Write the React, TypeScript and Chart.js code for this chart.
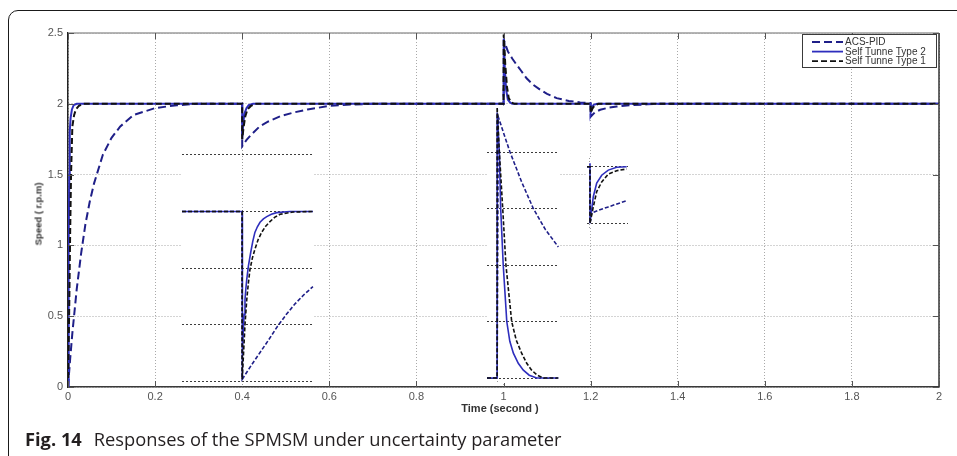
import React, { useEffect, useRef } from "react";
import { Chart, registerables } from "chart.js";

Chart.register(...registerables);

type Pair = [number, number];

// ---------- labels and ticks ----------
const seriesLabels = ["ACS-PID", "Self Tunne Type 2", "Self Tunne Type 1"];
const xTickValues = [0, 0.2, 0.4, 0.6, 0.8, 1, 1.2, 1.4, 1.6, 1.8, 2];
const xTickLabels = ["0", "0.2", "0.4", "0.6", "0.8", "1", "1.2", "1.4", "1.6", "1.8", "2"];
const yTickValues = [0, 0.5, 1, 1.5, 2, 2.5];
const yTickLabels = ["0", "0.5", "1", "1.5", "2", "2.5"];

// ---------- main response (time s, speed) ----------
const acsPid: Pair[] = [
  [0, 0], [0.005, 0.2], [0.01, 0.38], [0.02, 0.69], [0.03, 0.94], [0.04, 1.15], [0.05, 1.31],
  [0.06, 1.44], [0.08, 1.64], [0.1, 1.76], [0.12, 1.84], [0.15, 1.92], [0.2, 1.97], [0.25, 1.99],
  [0.3, 2.0], [0.4, 2.0],
  [0.4, 1.7], [0.41, 1.745], [0.42, 1.78], [0.44, 1.84], [0.46, 1.875], [0.49, 1.915], [0.52, 1.94],
  [0.55, 1.96], [0.6, 1.985], [0.65, 1.995], [0.7, 2.0], [1.0, 2.0],
  [1.002, 2.44], [1.01, 2.37], [1.02, 2.32], [1.03, 2.276], [1.04, 2.235], [1.053, 2.18],
  [1.068, 2.135], [1.084, 2.1], [1.1, 2.07], [1.122, 2.04], [1.15, 2.02], [1.176, 2.01], [1.2, 2.005],
  [1.2005, 1.91], [1.21, 1.94], [1.222, 1.958], [1.24, 1.972], [1.26, 1.981], [1.29, 1.99],
  [1.33, 1.996], [1.36, 2.0], [2.0, 2.0],
];
const selfTuneType2: Pair[] = [
  [0, 0], [0.001, 0.5], [0.002, 1.0], [0.003, 1.5], [0.004, 1.8], [0.006, 1.9], [0.009, 1.96],
  [0.013, 1.99], [0.02, 2.0], [0.4, 2.0],
  [0.4, 1.75], [0.402, 1.85], [0.405, 1.93], [0.41, 1.97], [0.415, 1.99], [0.425, 2.0], [1.0, 2.0],
  [1.0005, 2.46], [1.003, 2.25], [1.006, 2.1], [1.01, 2.03], [1.015, 2.01], [1.02, 2.0], [1.2, 2.0],
  [1.2, 1.935], [1.203, 1.975], [1.207, 1.993], [1.215, 2.0], [2.0, 2.0],
];
const selfTuneType1: Pair[] = [
  [0, 0], [0.003, 0.6], [0.005, 1.1], [0.007, 1.5], [0.01, 1.84], [0.014, 1.92], [0.018, 1.96],
  [0.025, 1.985], [0.035, 2.0], [0.4, 2.0],
  [0.4, 1.75], [0.403, 1.83], [0.407, 1.91], [0.412, 1.96], [0.42, 1.985], [0.43, 2.0], [1.0, 2.0],
  [1.0005, 2.49], [1.004, 2.28], [1.008, 2.12], [1.012, 2.04], [1.018, 2.01], [1.025, 2.0], [1.2, 2.0],
  [1.2, 1.935], [1.204, 1.965], [1.209, 1.987], [1.218, 2.0], [2.0, 2.0],
];

// ---------- zoomed views ----------
// load step at t = 0.4
const inset1Acs: Pair[] = [
  [0.366, 2.0], [0.4, 2.0], [0.4, 1.703], [0.405, 1.727], [0.41, 1.75], [0.415, 1.773],
  [0.42, 1.797], [0.425, 1.818], [0.43, 1.837], [0.435, 1.853], [0.44, 1.867],
];
const inset1Type2: Pair[] = [
  [0.366, 2.0], [0.4, 2.0], [0.4, 1.703], [0.4003, 1.745], [0.4006, 1.786], [0.4011, 1.818],
  [0.4016, 1.844], [0.4021, 1.864], [0.4026, 1.88], [0.4035, 1.903], [0.4048, 1.927],
  [0.406, 1.947], [0.4072, 1.963], [0.4086, 1.973], [0.4101, 1.981], [0.412, 1.987],
  [0.4139, 1.991], [0.4165, 1.995], [0.4195, 1.998], [0.427, 2.0], [0.44, 2.0],
];
const inset1Type1: Pair[] = [
  [0.366, 2.0], [0.4, 2.0], [0.4, 1.703], [0.4006, 1.738], [0.4016, 1.8], [0.4026, 1.844],
  [0.4035, 1.873], [0.4044, 1.897], [0.4058, 1.918], [0.4072, 1.933], [0.409, 1.95],
  [0.411, 1.963], [0.4133, 1.974], [0.4157, 1.982], [0.4185, 1.99], [0.4214, 1.995],
  [0.4287, 1.999], [0.44, 2.0],
];
const inset1Levels = [1.7, 1.8, 1.9, 2.0, 2.1];
const inset1Marks = [0.4];

// parameter change at t = 1.0
const inset2Acs: Pair[] = [
  [0.994, 2.0], [1.0, 2.0], [1.0007, 2.462], [1.004, 2.432], [1.0076, 2.4], [1.0145, 2.347],
  [1.0214, 2.3], [1.0285, 2.263], [1.0362, 2.232],
];
const inset2Type2: Pair[] = [
  [0.994, 2.0], [1.0, 2.0], [1.0, 2.47], [1.0013, 2.4], [1.0021, 2.3], [1.0036, 2.2], [1.0057, 2.1],
  [1.0075, 2.065], [1.0096, 2.044], [1.0125, 2.026], [1.0155, 2.014], [1.019, 2.005],
  [1.0234, 2.0], [1.0362, 2.0],
];
const inset2Type1: Pair[] = [
  [0.994, 2.0], [1.0, 2.0], [1.0, 2.48], [1.0013, 2.4], [1.0033, 2.3], [1.0052, 2.2], [1.0086, 2.1],
  [1.0113, 2.067], [1.0145, 2.044], [1.0175, 2.026], [1.0204, 2.014], [1.0237, 2.005],
  [1.0271, 2.0], [1.0362, 2.0],
];
const inset2Levels = [2.0, 2.1, 2.2, 2.3, 2.4];
const inset2Marks = [1.0];

// disturbance at t = 1.2
const inset3Acs: Pair[] = [
  [1.197, 2.0], [1.2, 2.0], [1.2, 1.9], [1.2017, 1.918], [1.2083, 1.923], [1.2183, 1.929], [1.2367, 1.94],
];
const inset3Type2: Pair[] = [
  [1.197, 2.0], [1.2, 2.0], [1.2, 2.006], [1.2, 1.9], [1.2033, 1.947], [1.2067, 1.971],
  [1.2117, 1.985], [1.2183, 1.994], [1.2267, 1.999], [1.2367, 2.0],
];
const inset3Type1: Pair[] = [
  [1.197, 2.0], [1.2, 2.0], [1.2, 1.9], [1.2033, 1.929], [1.2067, 1.956], [1.2117, 1.973],
  [1.2183, 1.987], [1.2267, 1.993], [1.2367, 1.996],
];
const inset3Levels = [1.9, 2.0];
const inset3Marks = [1.2];

// ---------- styles ----------
const ACS_COLOR = "#1f1f88";
const TYPE2_COLOR = "#2e2ebd";
const TYPE1_COLOR = "#111111";
const TICK_FONT = "'Liberation Sans', Arial, sans-serif";

const toPoints = (pairs: Pair[]) => pairs.map(([x, y]) => ({ x, y }));

const frameAndTicks = {
  id: "frameAndTicks",
  afterDraw(chart: any) {
    const { ctx, chartArea } = chart;
    const { left, right, top, bottom } = chartArea;
    const xs = chart.scales.x;
    const ys = chart.scales.y;
    ctx.save();
    ctx.lineWidth = 1.5;
    ctx.strokeStyle = "#9c9c9c";
    ctx.beginPath();
    ctx.moveTo(left, top);
    ctx.lineTo(right, top);
    ctx.stroke();
    ctx.strokeStyle = "#333";
    ctx.beginPath();
    ctx.moveTo(right, top);
    ctx.lineTo(right, bottom);
    ctx.stroke();
    ctx.lineWidth = 1;
    ctx.strokeStyle = "#555";
    const len = 6;
    xs.ticks.forEach((t: any) => {
      const px = Math.round(xs.getPixelForValue(t.value)) + 0.5;
      ctx.beginPath();
      ctx.moveTo(px, bottom);
      ctx.lineTo(px, bottom - len);
      ctx.moveTo(px, top);
      ctx.lineTo(px, top + len);
      ctx.stroke();
    });
    ys.ticks.forEach((t: any) => {
      const py = Math.round(ys.getPixelForValue(t.value)) + 0.5;
      ctx.beginPath();
      ctx.moveTo(left, py);
      ctx.lineTo(left + len, py);
      ctx.moveTo(right, py);
      ctx.lineTo(right - len, py);
      ctx.stroke();
    });
    ctx.restore();
  },
};

const legendBox = {
  id: "legendBox",
  afterDraw(chart: any) {
    const { ctx, chartArea } = chart;
    const w = 134;
    const h = 33;
    const bx = chartArea.right - 137;
    const by = chartArea.top + 1;
    ctx.save();
    ctx.fillStyle = "#ffffff";
    ctx.fillRect(bx, by, w, h);
    ctx.strokeStyle = "#3a3a3a";
    ctx.lineWidth = 1;
    ctx.strokeRect(bx + 0.5, by + 0.5, w, h);
    ctx.font = `10px ${TICK_FONT}`;
    ctx.textBaseline = "middle";
    chart.data.datasets.forEach((ds: any, i: number) => {
      const cy = by + 8 + i * 9.6;
      ctx.strokeStyle = ds.borderColor;
      ctx.lineWidth = 1.8;
      ctx.setLineDash(ds.borderDash || []);
      ctx.beginPath();
      ctx.moveTo(bx + 10, cy);
      ctx.lineTo(bx + 41, cy);
      ctx.stroke();
      ctx.setLineDash([]);
      ctx.fillStyle = "#333";
      ctx.fillText(ds.label, bx + 43, cy + 0.5);
    });
    ctx.restore();
  },
};

function MainPlot() {
  const ref = useRef<HTMLCanvasElement>(null);
  useEffect(() => {
    const chart = new Chart(ref.current as HTMLCanvasElement, {
      type: "line",
      data: {
        datasets: [
          {
            label: seriesLabels[0],
            data: toPoints(acsPid),
            borderColor: ACS_COLOR,
            borderDash: [8, 4],
            borderWidth: 2,
            pointRadius: 0,
            tension: 0,
            order: 3,
          },
          {
            label: seriesLabels[1],
            data: toPoints(selfTuneType2),
            borderColor: TYPE2_COLOR,
            borderWidth: 2,
            pointRadius: 0,
            tension: 0,
            order: 2,
          },
          {
            label: seriesLabels[2],
            data: toPoints(selfTuneType1),
            borderColor: TYPE1_COLOR,
            borderDash: [6, 3],
            borderWidth: 2,
            pointRadius: 0,
            tension: 0,
            order: 1,
          },
        ],
      } as any,
      options: {
        animation: false,
        responsive: false,
        maintainAspectRatio: false,
        events: [],
        layout: { padding: { left: 0, top: 33, right: 18, bottom: 0 } },
        plugins: { legend: { display: false }, tooltip: { enabled: false } },
        scales: {
          x: {
            type: "linear",
            min: 0,
            max: 2,
            afterBuildTicks: (s: any) => {
              s.ticks = xTickValues.map((v) => ({ value: v }));
            },
            afterFit: (s: any) => {
              s.height = 69;
            },
            ticks: {
              autoSkip: false,
              maxRotation: 0,
              padding: 3,
              color: "#555",
              font: { family: TICK_FONT, size: 11 },
              callback: (_v: any, i: number) => xTickLabels[i],
            },
            grid: { color: "#a9a9a9", lineWidth: 1, drawTicks: false },
            border: { color: "#3a3a3a", width: 1.5, dash: [1, 2] },
          },
          y: {
            type: "linear",
            min: 0,
            max: 2.5,
            afterBuildTicks: (s: any) => {
              s.ticks = yTickValues.map((v) => ({ value: v }));
            },
            afterFit: (s: any) => {
              s.width = 68;
            },
            ticks: {
              autoSkip: false,
              padding: 5,
              color: "#555",
              font: { family: TICK_FONT, size: 11 },
              callback: (_v: any, i: number) => yTickLabels[i],
            },
            grid: { color: "#a9a9a9", lineWidth: 1, drawTicks: false },
            border: { color: "#222", width: 1.5, dash: [1, 2] },
          },
        },
      } as any,
      plugins: [frameAndTicks, legendBox],
    });
    return () => chart.destroy();
  }, []);
  return (
    <canvas
      ref={ref}
      width={957}
      height={456}
      style={{ position: "absolute", left: 0, top: 0, width: 957, height: 456 }}
    />
  );
}

type InsetProps = {
  left: number;
  top: number;
  width: number;
  height: number;
  xRange: [number, number];
  yRange: [number, number];
  levels: number[];
  marks: number[];
  acs: Pair[];
  type2: Pair[];
  type1: Pair[];
};

function Inset(props: InsetProps) {
  const ref = useRef<HTMLCanvasElement>(null);
  useEffect(() => {
    const chart = new Chart(ref.current as HTMLCanvasElement, {
      type: "line",
      data: {
        datasets: [
          {
            label: seriesLabels[0],
            data: toPoints(props.acs),
            borderColor: ACS_COLOR,
            borderDash: [4, 2],
            borderWidth: 1.6,
            pointRadius: 0,
            tension: 0,
            order: 3,
          },
          {
            label: seriesLabels[1],
            data: toPoints(props.type2),
            borderColor: TYPE2_COLOR,
            borderWidth: 1.6,
            pointRadius: 0,
            tension: 0,
            order: 2,
          },
          {
            label: seriesLabels[2],
            data: toPoints(props.type1),
            borderColor: TYPE1_COLOR,
            borderDash: [4, 2],
            borderWidth: 1.6,
            pointRadius: 0,
            tension: 0,
            order: 1,
          },
        ],
      } as any,
      options: {
        animation: false,
        responsive: false,
        maintainAspectRatio: false,
        events: [],
        layout: { padding: 0 },
        plugins: { legend: { display: false }, tooltip: { enabled: false } },
        scales: {
          x: {
            type: "linear",
            min: props.xRange[0],
            max: props.xRange[1],
            afterBuildTicks: (s: any) => {
              s.ticks = props.marks.map((v) => ({ value: v }));
            },
            afterFit: (s: any) => {
              s.height = 0;
            },
            ticks: { display: false },
            grid: { color: "#9a9a9a", lineWidth: 1, drawTicks: false },
            border: { display: false, dash: [1, 2] },
          },
          y: {
            type: "linear",
            min: props.yRange[0],
            max: props.yRange[1],
            afterBuildTicks: (s: any) => {
              s.ticks = props.levels.map((v) => ({ value: v }));
            },
            afterFit: (s: any) => {
              s.width = 0;
            },
            ticks: { display: false },
            grid: { color: "#3c3c3c", lineWidth: 1, drawTicks: false },
            border: { display: false, dash: [2, 2] },
          },
        },
      } as any,
    });
    return () => chart.destroy();
  }, []);
  return (
    <canvas
      ref={ref}
      width={props.width}
      height={props.height}
      style={{
        position: "absolute",
        left: props.left,
        top: props.top,
        width: props.width,
        height: props.height,
        background: "#ffffff",
      }}
    />
  );
}

export default function App() {
  return (
    <div
      style={{
        position: "fixed",
        left: 0,
        top: 0,
        width: 957,
        height: 456,
        background: "#ffffff",
        overflow: "hidden",
      }}
    >
      <div
        style={{
          position: "absolute",
          left: 8,
          top: 10,
          width: 980,
          height: 480,
          border: "1.5px solid #1a1a1a",
          borderRadius: 10,
          boxSizing: "border-box",
        }}
      />
      <MainPlot />
      <Inset
        left={182}
        top={150}
        width={132}
        height={236}
        xRange={[0.366, 0.4406]}
        yRange={[1.6912, 2.1088]}
        levels={inset1Levels}
        marks={inset1Marks}
        acs={inset1Acs}
        type2={inset1Type2}
        type1={inset1Type1}
      />
      <Inset
        left={487}
        top={108}
        width={72}
        height={275}
        xRange={[0.994, 1.0366]}
        yRange={[1.9912, 2.4779]}
        levels={inset2Levels}
        marks={inset2Marks}
        acs={inset2Acs}
        type2={inset2Type2}
        type1={inset2Type1}
      />
      <Inset
        left={587}
        top={158}
        width={41}
        height={70}
        xRange={[1.197, 1.238]}
        yRange={[1.8917, 2.0154]}
        levels={inset3Levels}
        marks={inset3Marks}
        acs={inset3Acs}
        type2={inset3Type2}
        type1={inset3Type1}
      />
      <div
        style={{
          position: "absolute",
          left: 38,
          top: 214,
          transform: "translate(-50%, -50%) rotate(-90deg)",
          whiteSpace: "nowrap",
          font: `bold 9.5px ${TICK_FONT}`,
          color: "#333",
        }}
      >
        Speed ( r.p.m)
      </div>
      <div
        style={{
          position: "absolute",
          left: 500,
          top: 408,
          transform: "translate(-50%, -50%)",
          whiteSpace: "nowrap",
          font: `bold 11px ${TICK_FONT}`,
          color: "#333",
        }}
      >
        Time (second )
      </div>
      <div
        style={{
          position: "absolute",
          left: 25,
          top: 430,
          whiteSpace: "nowrap",
          fontFamily: "'Open Sans', sans-serif",
          fontSize: 18.3,
          lineHeight: "18px",
          color: "#231f20",
        }}
      >
        <span style={{ fontWeight: 700 }}>Fig. 14</span>
        <span style={{ marginLeft: 12 }}>Responses of the SPMSM under uncertainty parameter</span>
      </div>
    </div>
  );
}
